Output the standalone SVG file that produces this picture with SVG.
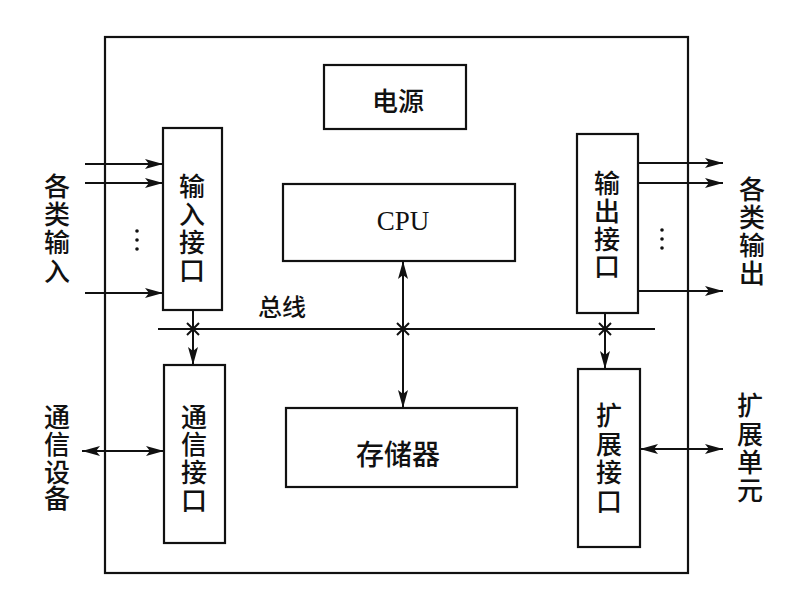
<svg xmlns="http://www.w3.org/2000/svg" width="806" height="603" viewBox="0 0 806 603">
  <style>
    .box { fill: #fff; stroke: #111; stroke-width: 2.2; }
    .ln { fill: none; stroke: #111; stroke-width: 2; }
    .cjk { font-family: "Noto Sans CJK SC", "Noto Sans", sans-serif; font-size: 26px; font-weight: 500; fill: #111; text-anchor: middle; dominant-baseline: central; }
    .lat { font-family: "Liberation Serif", serif; font-size: 27px; fill: #111; text-anchor: middle; dominant-baseline: central; }
  </style>
  <defs>
    <marker id="ah" viewBox="0 0 18 10" refX="18" refY="5" markerWidth="18" markerHeight="10" markerUnits="userSpaceOnUse" orient="auto-start-reverse">
      <path d="M0,0 L18,5 L0,10 L4,5 z" fill="#111"/>
    </marker>
  </defs>
  <rect width="806" height="603" fill="#fff"/>

  <g id="frame">
    <rect class="box" x="105" y="37" width="583" height="536" fill="none"/>
  </g>

  <g id="power">
    <rect class="box" x="324" y="65" width="142" height="64"/>
    <text class="cjk" x="398" y="99">电源</text>
  </g>

  <g id="cpu">
    <rect class="box" x="283" y="184" width="232" height="77"/>
    <text class="lat" x="403" y="221">CPU</text>
  </g>

  <g id="memory">
    <rect class="box" x="286" y="408" width="231" height="79"/>
    <text class="cjk" x="398" y="453" style="font-size:28px">存储器</text>
  </g>

  <g id="input-if">
    <rect class="box" x="163" y="128" width="59" height="182"/>
    <text class="cjk" x="192" y="184">输</text>
    <text class="cjk" x="192" y="212">入</text>
    <text class="cjk" x="192" y="240">接</text>
    <text class="cjk" x="192" y="268">口</text>
  </g>

  <g id="output-if">
    <rect class="box" x="577" y="134" width="61" height="179"/>
    <text class="cjk" x="607" y="181">输</text>
    <text class="cjk" x="607" y="209">出</text>
    <text class="cjk" x="607" y="237">接</text>
    <text class="cjk" x="607" y="264">口</text>
  </g>

  <g id="comm-if">
    <rect class="box" x="164" y="365" width="61" height="178"/>
    <text class="cjk" x="194" y="415">通</text>
    <text class="cjk" x="194" y="442">信</text>
    <text class="cjk" x="194" y="470">接</text>
    <text class="cjk" x="194" y="498">口</text>
  </g>

  <g id="ext-if">
    <rect class="box" x="578" y="369" width="62" height="178"/>
    <text class="cjk" x="609" y="413">扩</text>
    <text class="cjk" x="609" y="442">展</text>
    <text class="cjk" x="609" y="470">接</text>
    <text class="cjk" x="609" y="499">口</text>
  </g>

  <g id="label-inputs">
    <text class="cjk" x="57" y="184">各</text>
    <text class="cjk" x="57" y="212">类</text>
    <text class="cjk" x="57" y="240">输</text>
    <text class="cjk" x="57" y="269">入</text>
  </g>

  <g id="label-outputs">
    <text class="cjk" x="752" y="187">各</text>
    <text class="cjk" x="752" y="215">类</text>
    <text class="cjk" x="752" y="243">输</text>
    <text class="cjk" x="752" y="271">出</text>
  </g>

  <g id="label-comm">
    <text class="cjk" x="57" y="415">通</text>
    <text class="cjk" x="57" y="442">信</text>
    <text class="cjk" x="57" y="470">设</text>
    <text class="cjk" x="57" y="496">备</text>
  </g>

  <g id="label-ext">
    <text class="cjk" x="750" y="403">扩</text>
    <text class="cjk" x="750" y="432">展</text>
    <text class="cjk" x="750" y="460">单</text>
    <text class="cjk" x="750" y="488">元</text>
  </g>

  <g id="label-bus">
    <text class="cjk" x="282" y="305" style="font-size:24px">总线</text>
  </g>

  <g id="connectors">
    <line class="ln" x1="158" y1="329" x2="655" y2="329"/>
    <line class="ln" x1="85" y1="164" x2="163" y2="164" marker-end="url(#ah)"/>
    <line class="ln" x1="85" y1="183" x2="163" y2="183" marker-end="url(#ah)"/>
    <line class="ln" x1="85" y1="293" x2="163" y2="293" marker-end="url(#ah)"/>
    <line class="ln" x1="638" y1="163" x2="723" y2="163" marker-end="url(#ah)"/>
    <line class="ln" x1="638" y1="183" x2="723" y2="183" marker-end="url(#ah)"/>
    <line class="ln" x1="638" y1="291" x2="723" y2="291" marker-end="url(#ah)"/>
    <line class="ln" x1="82" y1="451" x2="164" y2="451" marker-start="url(#ah)" marker-end="url(#ah)"/>
    <line class="ln" x1="640" y1="449" x2="723" y2="449" marker-start="url(#ah)" marker-end="url(#ah)"/>
    <line class="ln" x1="193" y1="310" x2="193" y2="365" marker-end="url(#ah)"/>
    <line class="ln" x1="605" y1="313" x2="605" y2="369" marker-end="url(#ah)"/>
    <line class="ln" x1="403" y1="261" x2="403" y2="408" marker-start="url(#ah)" marker-end="url(#ah)"/>
    <path class="ln" d="M187,323 L199,335 M199,323 L187,335"/>
    <path class="ln" d="M397,323 L409,335 M409,323 L397,335"/>
    <path class="ln" d="M599,323 L611,335 M611,323 L599,335"/>
    <g fill="#111">
      <circle cx="137" cy="231" r="1.8"/>
      <circle cx="137" cy="240" r="1.8"/>
      <circle cx="137" cy="249" r="1.8"/>
      <circle cx="662" cy="230" r="1.8"/>
      <circle cx="662" cy="239" r="1.8"/>
      <circle cx="662" cy="248" r="1.8"/>
    </g>
  </g>
</svg>
